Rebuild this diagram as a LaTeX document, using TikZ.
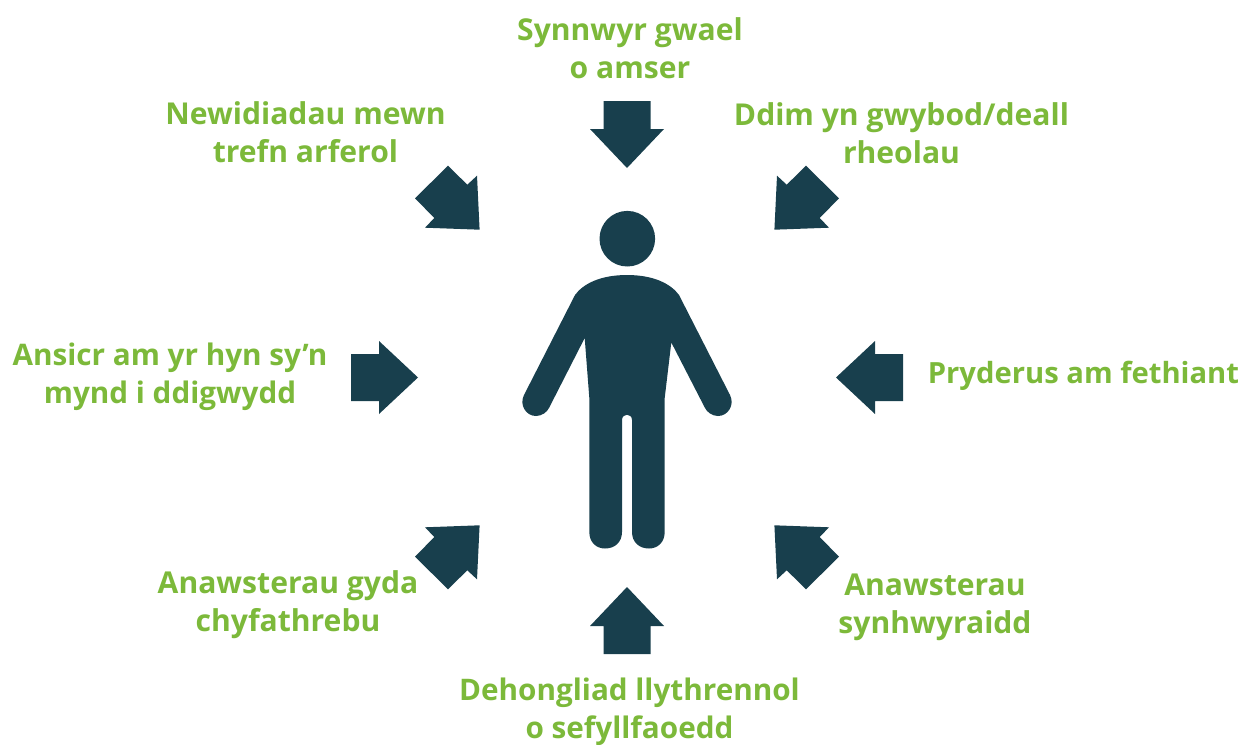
\documentclass[tikz,border=0pt]{standalone}
\usepackage{fontspec}
\setmainfont{Open Sans}
\definecolor{deep}{HTML}{183F4D}
\definecolor{leaf}{HTML}{7CB93A}
\tikzset{
  lbl/.style={text=leaf,font=\fontsize{30.1}{38}\selectfont\bfseries,align=center,inner sep=0pt},
  lblsmall/.style={lbl,font=\fontsize{29.7}{38}\selectfont\bfseries},
  lbltiny/.style={lbl,font=\fontsize{29.2}{38}\selectfont\bfseries},
  shape fill/.style={fill=deep,draw=none}
}
\begin{document}
\begin{tikzpicture}[x=1pt,y=-1pt]
\useasboundingbox (0,0) rectangle (1249,744);
% vertical arrows
\fill[shape fill] (603.5,101) -- (650.5,101) -- (650.5,129) -- (664,129) -- (627,168) -- (590,129) -- (603.5,129) -- cycle;
\fill[shape fill] (603.5,654) -- (650.5,654) -- (650.5,626) -- (664,626) -- (627,587) -- (590,626) -- (603.5,626) -- cycle;
% diagonal arrows
\fill[shape fill] (448,165.7) -- (467.3,184.7) -- (477,175.7) -- (479.6,229.7) -- (425,227.7) -- (434.3,218) -- (415,198.3) -- cycle;
\fill[shape fill] (806,165.7) -- (786.7,184.7) -- (777,175.7) -- (774.4,229.7) -- (829,227.7) -- (819.7,218) -- (839,198.3) -- cycle;
\fill[shape fill] (448,589.3) -- (467.3,570.3) -- (477,579.3) -- (479.6,525.3) -- (425,527.3) -- (434.3,537) -- (415,556.7) -- cycle;
\fill[shape fill] (806,589.3) -- (786.7,570.3) -- (777,579.3) -- (774.4,525.3) -- (829,527.3) -- (819.7,537) -- (839,556.7) -- cycle;
% horizontal arrows
\fill[shape fill] (351,354) -- (379,354) -- (379,341) -- (418,377.5) -- (379,414) -- (379,401) -- (351,401) -- cycle;
\fill[shape fill] (903,354) -- (875,354) -- (875,341) -- (836,377.5) -- (875,414) -- (875,401) -- (903,401) -- cycle;
% person
\fill[shape fill] (627.3,238.7) circle[radius=27.8];
\fill[shape fill]
  (627,275) .. controls (600,275) and (583,284) .. (575,295)
  -- (524,395) .. controls (519,405) and (526,416) .. (536,416)
  .. controls (542,416) and (547,412) .. (549,408)
  -- (584.7,338) -- (589.3,398) -- (589.3,532)
  .. controls (589.3,542) and (596,548.5) .. (605,548.5)
  .. controls (615,548.5) and (622,542) .. (622,532)
  -- (622,420) .. controls (622,413) and (632,413) .. (632,420)
  -- (632,532)
  .. controls (632,542) and (639,548.5) .. (649,548.5)
  .. controls (658,548.5) and (664.7,542) .. (664.7,532)
  -- (664.7,398) -- (671.3,342.5) -- (705,408)
  .. controls (707,412) and (712,416) .. (718,416)
  .. controls (728,416) and (735,405) .. (730,395)
  -- (679,295) .. controls (671,284) and (654,275) .. (627,275) -- cycle;
% labels
\node[lbl] (top) at (630,48) {Synnwyr gwael\\o amser};
\node[lbl] (tl) at (305.5,132) {Newidiadau mewn\\trefn arferol};
\node[lbl] (tr) at (901.5,133.5) {Ddim yn gwybod/deall\\rheolau};
\node[lblsmall] (l) at (170,376.5) {Ansicr am yr hyn sy’n\\mynd i ddigwydd};
\node[lbltiny] (r) at (1083.5,376) {Pryderus am fethiant};
\node[lbl] (bl) at (288,605) {Anawsterau gyda\\chyfathrebu};
\node[lbl] (br) at (935,607) {Anawsterau\\synhwyraidd};
\node[lblsmall] (b) at (629.5,712) {Dehongliad llythrennol\\o sefyllfaoedd};
\end{tikzpicture}
\end{document}
